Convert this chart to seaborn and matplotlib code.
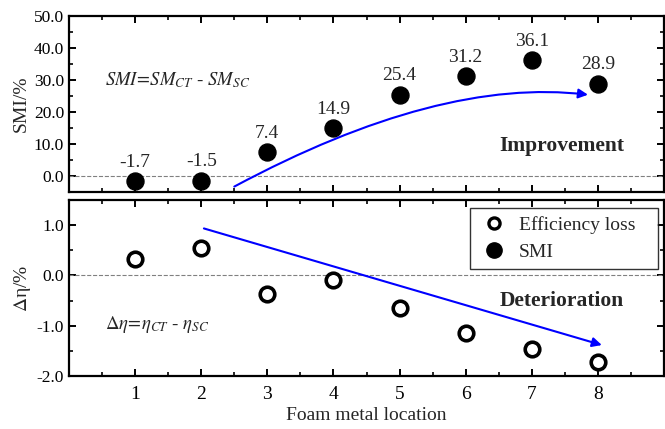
import numpy as np
import pandas as pd
import seaborn as sns
import matplotlib
matplotlib.use('Agg')
import matplotlib.pyplot as plt
from matplotlib.lines import Line2D
from matplotlib.path import Path
from matplotlib.patches import FancyArrowPatch

sns.set_theme(style="ticks")
plt.rcParams['font.family'] = ['Liberation Serif', 'DejaVu Serif']
plt.rcParams['mathtext.fontset'] = 'stix'

location = [1, 2, 3, 4, 5, 6, 7, 8]
smi = [-1.7, -1.5, 7.4, 14.9, 25.4, 31.2, 36.1, 28.9]
eff_loss = [0.32, 0.55, -0.36, -0.09, -0.64, -1.14, -1.47, -1.73]

df = pd.DataFrame({'loc': location, 'smi': smi, 'eff': eff_loss})

fig = plt.figure(figsize=(6.65, 4.29), dpi=100)
ax1 = fig.add_axes([0.1038, 0.5524, 0.8947, 0.4103])
ax2 = fig.add_axes([0.1038, 0.1235, 0.8947, 0.4103])

def style_ax(ax):
    for s in ax.spines.values():
        s.set_linewidth(1.6)
        s.set_color('black')
    ax.tick_params(which='both', direction='in', top=True, right=True,
                   colors='black', labelsize=12.5)
    ax.tick_params(which='major', length=5, width=1.4)
    ax.tick_params(which='minor', length=3, width=1.2)
    ax.set_xlim(0, 9)
    ax.set_xticks(range(0, 10))
    ax.set_xticks(np.arange(0.5, 9, 1), minor=True)

# top panel
sns.scatterplot(data=df, x='loc', y='smi', ax=ax1, color='black', s=150,
                edgecolor='black', zorder=3)
ax1.axhline(0, color='gray', ls='--', lw=0.8, zorder=1)
style_ax(ax1)
ax1.set_ylim(-5, 50)
ax1.set_yticks([0, 10, 20, 30, 40, 50])
ax1.set_yticklabels([f'{v:.1f}' for v in [0, 10, 20, 30, 40, 50]])
ax1.set_yticks(np.arange(-5, 50, 5), minor=True)
ax1.set_xticklabels([])
ax1.set_xlabel('')
ax1.set_ylabel('SMI/%', fontsize=14, labelpad=3)
for xv, yv in zip(location, smi):
    ax1.text(xv, yv + 3.3, f'{yv:.1f}', ha='center', va='bottom', fontsize=14)
ax1.text(0.55, 30, r'$SMI\!=\!SM_{CT}$ - $SM_{SC}$', fontsize=13.5, va='center')
ax1.text(8.4, 9.5, 'Improvement', fontsize=15.5, weight='bold', ha='right', va='center')

# curved trend arrow (quadratic bezier)
trend = Path([(2.5, -3.3), (5.6, 31.0), (7.85, 25.4)],
             [Path.MOVETO, Path.CURVE3, Path.CURVE3])
ax1.add_patch(FancyArrowPatch(path=trend, arrowstyle='-|>', color='#0000ff',
                              lw=1.5, mutation_scale=14, zorder=2))

# bottom panel
sns.scatterplot(data=df, x='loc', y='eff', ax=ax2, facecolor='white', s=110,
                edgecolor='black', linewidth=2.6, zorder=3)
ax2.axhline(0, color='gray', ls='--', lw=0.8, zorder=1)
style_ax(ax2)
ax2.tick_params(axis='x', which='major', pad=7)
ax2.set_ylim(-2, 1.5)
ax2.set_yticks([-2, -1, 0, 1])
ax2.set_yticklabels([f'{v:.1f}' for v in [-2, -1, 0, 1]])
ax2.set_yticks(np.arange(-2, 1.6, 0.5), minor=True)
ax2.set_xticklabels(['', '1', '2', '3', '4', '5', '6', '7', '8', ''], fontsize=14)
ax2.set_xlabel('Foam metal location', fontsize=14, labelpad=3)
ax2.set_ylabel(r'$\Delta$η/%', fontsize=14, labelpad=3)
ax2.text(0.55, -0.98, r'$\Delta\eta\!=\!\eta_{CT}$ - $\eta_{SC}$', fontsize=13.5, va='center')
ax2.text(8.4, -0.5, 'Deterioration', fontsize=15.5, weight='bold', ha='right', va='center')
ax2.annotate('', xy=(8.1, -1.4), xytext=(2.0, 0.95),
             arrowprops=dict(arrowstyle='-|>', color='#0000ff', lw=1.5,
                             mutation_scale=14))

handles = [Line2D([], [], ls='', marker='o', ms=8, mfc='white', mec='black', mew=2.4),
           Line2D([], [], ls='', marker='o', ms=11, mfc='black', mec='black')]
leg = ax2.legend(handles, ['Efficiency loss   ', 'SMI'], loc='upper right',
                 bbox_to_anchor=(0.99, 0.955), fontsize=14, frameon=True,
                 fancybox=False, edgecolor='black', handlelength=1.7,
                 handletextpad=0.45, borderpad=0.4, labelspacing=0.5,
                 borderaxespad=0)
leg.get_frame().set_linewidth(1.0)

fig.savefig('out.png', dpi=100)
